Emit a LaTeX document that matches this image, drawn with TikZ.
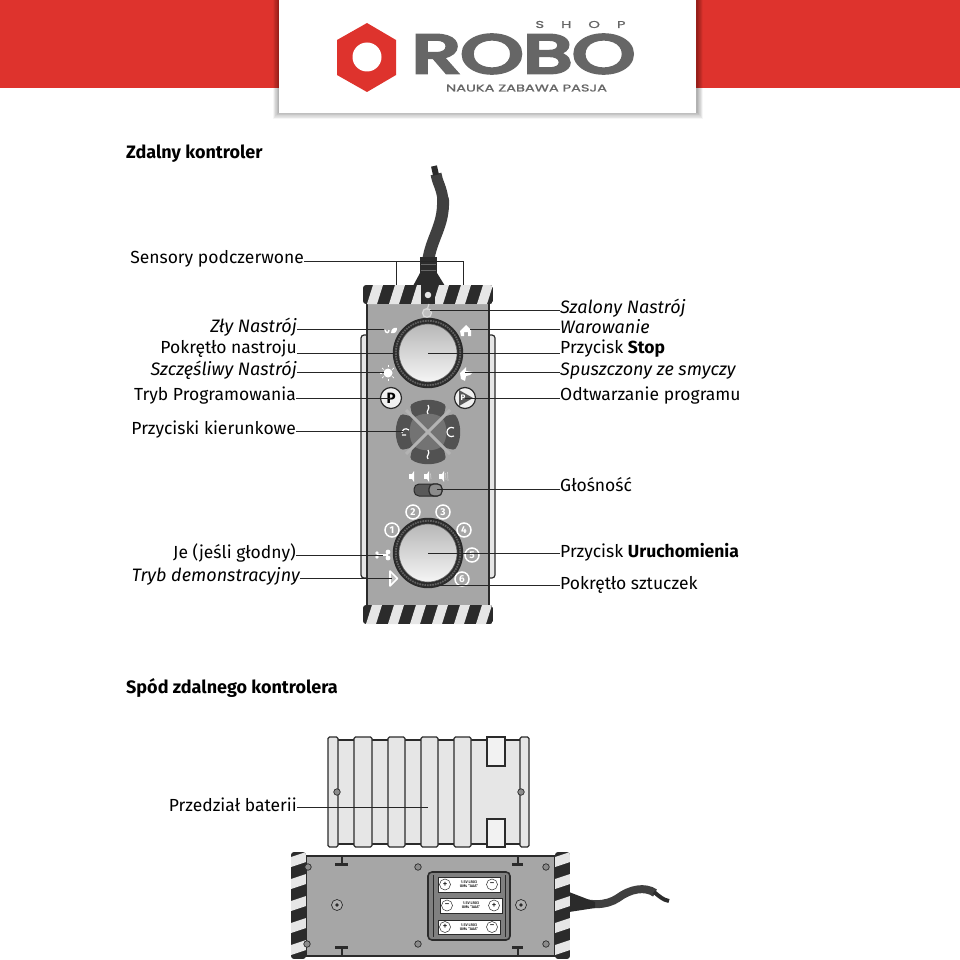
\documentclass[tikz,border=0pt]{standalone}
\usepackage{fontspec}
\setmainfont{Fira Sans}
\newfontfamily\logofont[FakeBold=6]{Poppins}
\newfontfamily\mottofont[FakeBold=1]{Poppins}
\usepackage{graphicx}
\usetikzlibrary{arrows.meta, positioning, shapes.geometric, calc}
\definecolor{robored}{HTML}{DE332D}
\definecolor{robogray}{HTML}{666666}
\definecolor{inkdark}{HTML}{2B2B2B}
\definecolor{bodygray}{HTML}{A6A6A6}
\definecolor{coverfill}{HTML}{E6E6E6}
\newcommand{\labelfont}{\fontsize{17.5}{19}\selectfont}
\newcommand{\italfont}{\fontsize{18}{19}\selectfont\itshape}

\begin{document}
\begin{tikzpicture}[
    x=1pt, y=-1pt,
    ltag/.style={anchor=base east, inner sep=0pt, font=\labelfont, text=black},
    rtag/.style={anchor=base west, inner sep=0pt, font=\labelfont, text=black},
    title/.style={anchor=base west, inner sep=0pt, font=\fontsize{18}{19}\selectfont\bfseries, text=black},
    lead/.style={draw=black!85, line width=0.8pt},
    shell/.style={draw=inkdark, line width=1.2pt},
    knobrim/.style={circle, draw=inkdark, line width=1.4pt, fill=inkdark, minimum size=69pt, inner sep=0pt},
    knobface/.style={circle, draw=black!60, line width=0.6pt, minimum size=58pt, inner sep=0pt,
        shading=axis, shading angle=-30, top color=black!28, bottom color=black!4},
    roundbtn/.style={circle, draw=inkdark, line width=1.2pt, fill=black!6, minimum size=21pt, inner sep=0pt,
        font=\fontsize{15}{15}\selectfont\bfseries},
    numdot/.style={circle, draw=white, line width=1.5pt, minimum size=14pt, inner sep=0pt, text=white,
        font=\fontsize{10}{10}\selectfont\bfseries},
    screw/.style={circle, draw=inkdark, line width=0.7pt, fill=black!45, minimum size=6.5pt, inner sep=0pt},
    stud/.style={circle, draw=inkdark, line width=0.7pt, fill=black!30, minimum size=11pt, inner sep=0pt},
    cell/.style={draw=inkdark, line width=0.7pt, fill=white},
    polemark/.style={circle, draw=inkdark, line width=0.5pt, fill=white, minimum size=11pt, inner sep=0pt,
        font=\fontsize{10}{10}\selectfont},
    celltext/.style={inner sep=0pt, align=center, text=inkdark, font=\fontsize{3.8}{4.4}\selectfont\bfseries},
    speaker/.style={fill=white, draw=none},
]
\useasboundingbox (0,0) rectangle (960,960);

% ── Header ──────
\fill[robored] (0,0) rectangle (960,88);
\foreach \s in {10,9,...,1}
    \fill[black, opacity=0.035] (279-\s*0.6,0) rectangle (697+\s*0.6,112+\s*0.7);
\fill[white] (279,0) rectangle (696,113);
\fill[robored] (367,23) -- (396,40) -- (396,75) -- (367,92) -- (337,75) -- (337,40) -- cycle;
\fill[white] (367,57) circle[radius=14.5pt];
\node[inner sep=0pt, text=robogray] (logoname) at (523.5,54)
    {\resizebox{223pt}{38pt}{\logofont ROBO}};
\node[inner sep=0pt, text=robogray] (logoshop) at (580.5,24.5)
    {\resizebox{90pt}{7pt}{\mottofont S\,\,\,\,\,\,\,H\,\,\,\,\,\,\,O\,\,\,\,\,\,\,P}};
\node[inner sep=0pt, text=robogray] (logomotto) at (526.5,88)
    {\resizebox{161pt}{7pt}{\mottofont NAUKA ZABAWA PASJA}};

\node[title] (topTitle) at (126,159) {Zdalny kontroler};
\node[title] (underTitle) at (126,693) {Spód zdalnego kontrolera};

% ── Remote, front ──────
\draw[line width=12pt, inkdark!90, line cap=round] (428,262) .. controls (431,238) and (444,226) .. (443,200);
\draw[line width=11pt, inkdark!90] (443,200.5) .. controls (442,188) and (437,182) .. (436,174);
\draw[line width=6pt, inkdark] (436,175) -- (434,166);
\fill[inkdark] (420,257) rectangle (437,273);
\fill[inkdark] (420,273) -- (437,273) -- (445,286) -- (413,286) -- cycle;
\draw[black!60, line width=0.5pt] (421,264) -- (436,264) (421,270) -- (436,270);

\draw[shell, fill=coverfill, rounded corners=3pt] (361,335) rectangle (495,578);
\draw[shell, fill=bodygray] (367,300) rectangle (489,609);

% top and bottom bars
\begin{scope}
    \clip[rounded corners=3pt] (363,285) rectangle (493,304);
    \fill[inkdark] (363,285) rectangle (493,304);
    \foreach \x in {367,389,...,477}
        \fill[coverfill] (\x,304) -- (\x+10,304) -- (\x+16,285) -- (\x+6,285) -- cycle;
\end{scope}
\begin{scope}
    \clip[rounded corners=3pt] (363,605) rectangle (493,624);
    \fill[inkdark] (363,605) rectangle (493,624);
    \foreach \x in {366,388,...,476}
        \fill[coverfill] (\x,624) -- (\x+10,624) -- (\x+16,605) -- (\x+6,605) -- cycle;
\end{scope}
\fill[inkdark] (421,285) rectangle (435,304);
\draw[inkdark, line width=1.5pt, fill=coverfill] (428,295) circle[radius=4.2pt];

% mood icons
\coordinate (spiralTip) at (430,310);
\draw[white!85!black, line width=1.2pt, fill=black!25] (427,313) circle[radius=4.5pt];
\draw[white!85!black, line width=1.2pt] (427,310) -- (429,304);
\coordinate (angryTip) at (384,329);
\draw[white, line width=1.4pt] (385,330) .. controls (386,334) and (389,333) .. (389,330);
\fill[white] (391,333) .. controls (391,329) and (394,327) .. (397,328) .. controls (397,332) and (395,334) .. (391,333) -- cycle;
\coordinate (houseTip) at (470,329);
\fill[white] (460,331) -- (466,325) -- (471,330) -- (471,336) -- (468,336) -- (468,332) -- (464,332) -- (464,336) -- (461,336) -- cycle;
\coordinate (sunTip) at (384,372);
\fill[white] (388,373) circle[radius=4.5pt];
\foreach \dx/\dy in {-8/0,-6/-5,-6/5,0/-8,0/8,6/-5,6/5}
    \draw[white, line width=0.7pt] ($(388,373)+(0.7*\dx,0.7*\dy)$) -- ($(388,373)+(\dx,\dy)$);
\coordinate (leashTip) at (465,372);
\fill[white] (460,373) -- (466,367) -- (466,371) -- (473,372) -- (470,375) -- (466,376) -- (465,381) -- (461,379) -- cycle;

\node[knobrim] (moodRim) at (428,353) {};
\draw[black!62, line width=1.8pt, dash pattern=on 1.6pt off 1pt] (moodRim) circle[radius=32.2pt];
\node[knobface] (moodKnob) at (428,353) {};

\node[roundbtn] (progBtn) at (391,398) {P};
\node[roundbtn] (playBtn) at (465,398) {};
\fill[black!65] (459,390) -- (473,398) -- (459,406) -- cycle;
\node[inner sep=0pt, text=white, font=\fontsize{8}{8}\selectfont\bfseries] (playMark) at (463,398) {P};

% direction pad
\coordinate (padC) at (428,432);
\foreach \a in {0,90,180,270}{
    \fill[black!68, rounded corners=1.5pt] (padC) -- ($(padC)+(\a+135:22)$)
        -- ($(padC)+(\a+124:32)$) .. controls ($(padC)+(\a+105:35)$) and ($(padC)+(\a+75:35)$) .. ($(padC)+(\a+56:32)$)
        -- ($(padC)+(\a+45:22)$) -- cycle;
    \fill[black!55] (padC) -- ($(padC)+(\a+135:20)$) .. controls ($(padC)+(\a+110:21)$) and ($(padC)+(\a+70:21)$) .. ($(padC)+(\a+45:20)$) -- cycle;
}
\draw[bodygray!85, line width=3pt] ($(padC)+(-22,-22)$) -- ($(padC)+(22,22)$);
\draw[bodygray!85, line width=3pt] ($(padC)+(-22,22)$) -- ($(padC)+(22,-22)$);
\draw[white, line width=1.2pt] (428,405) .. controls (431,409) and (425,411) .. (428,414);
\draw[white, line width=1.2pt] (428,450) .. controls (431,454) and (425,456) .. (428,459);
\draw[white, line width=1.2pt] (409,430) .. controls (405,427) and (402,430) .. (402,433) (402,435) -- (406,435);
\draw[white, line width=1.2pt] (454,428) .. controls (450,426) and (447,429) .. (447,432) .. controls (447,435) and (450,438) .. (454,436);
\coordinate (padTip) at (403,431);

% volume
\foreach \x in {413,428,443}{
    \fill[speaker] (\x-4,474) rectangle (\x-1,479);
    \fill[speaker] (\x-1,479) -- (\x+1,482) -- (\x+1,471) -- (\x-1,474) -- cycle;
}
\draw[white!80!black, line width=0.7pt] (430.5,473.5) -- (431,479);
\draw[white!80!black, line width=0.7pt] (445.5,473) -- (446,480) (447.5,472) -- (448,481);
\draw[inkdark, line width=1pt, fill=black!65, rounded corners=5pt] (414,484) rectangle (442,496);
\draw[inkdark, line width=1.2pt, fill=black!45, rounded corners=4.5pt] (429,484) rectangle (442,496);
\coordinate (volTip) at (437,489);

% trick dial
\node[knobrim] (trickRim) at (428,553) {};
\draw[black!62, line width=1.8pt, dash pattern=on 1.6pt off 1pt] (trickRim) circle[radius=32.2pt];
\node[knobface] (trickKnob) at (428,553) {};
\node[numdot] (nOne) at (392,530) {1};
\node[numdot] (nTwo) at (413,512) {2};
\node[numdot] (nThree) at (443,512) {3};
\node[numdot] (nFour) at (464,530) {4};
\node[numdot] (nFive) at (472,555) {5};
\node[numdot] (nSix) at (462,579) {6};
\coordinate (boneTip) at (383,555);
\draw[white, line width=2.4pt] (377,555) -- (388,555);
\fill[white] (377,553) circle[radius=1.8pt] (377,557) circle[radius=1.8pt] (388,552) circle[radius=2.4pt] (388,558) circle[radius=2.4pt];
\coordinate (demoTip) at (392,578);
\draw[white, line width=1.6pt, fill=bodygray!70, line join=round] (390,571) -- (397.5,578.5) -- (390,586) -- cycle;
\coordinate (dialTip) at (438,585);

% ── Leads, front ──────
\node[ltag] (sensorLbl) at (304,263) {Sensory podczerwone};
\node[ltag, font=\italfont] (angryLbl) at (297,332) {Zły Nastrój};
\node[ltag] (moodLbl) at (297,353) {Pokrętło nastroju};
\node[ltag, font=\italfont] (happyLbl) at (297,375) {Szczęśliwy Nastrój};
\node[ltag] (progLbl) at (296,400) {Tryb Programowania};
\node[ltag] (padLbl) at (296,434) {Przyciski kierunkowe};
\node[ltag] (feedLbl) at (296,558) {Je (jeśli głodny)};
\node[ltag, font=\italfont] (demoLbl) at (300,581) {Tryb demonstracyjny};

\node[rtag, font=\italfont] (crazyLbl) at (560,313) {Szalony Nastrój};
\node[rtag, font=\italfont] (guardLbl) at (560,333) {Warowanie};
\node[rtag] (stopLbl) at (560,353) {Przycisk \textbf{Stop}};
\node[rtag, font=\italfont] (leashLbl) at (560,375) {Spuszczony ze smyczy};
\node[rtag] (playLbl) at (560,400) {Odtwarzanie programu};
\node[rtag] (volLbl) at (560,491) {Głośność};
\node[rtag] (runLbl) at (560,557) {Przycisk \textbf{Uruchomienia}};
\node[rtag] (dialLbl) at (560,589) {Pokrętło sztuczek};

\coordinate (sensorL) at (396,285);
\coordinate (sensorR) at (463,285);
\draw[lead] (sensorLbl.east |- 0,261) -| (sensorL);
\draw[lead] (sensorL |- 0,261) -| (sensorR);

\draw[lead] (angryLbl.east |- angryTip) -- (angryTip);
\draw[lead] (moodLbl.east |- moodRim.west) -- (moodRim.west);
\draw[lead] (happyLbl.east |- sunTip) -- (sunTip);
\draw[lead] (progLbl.east |- progBtn) -- (progBtn.center);
\draw[lead] (padLbl.east |- padTip) -- (padTip);
\draw[lead] (feedLbl.east |- boneTip) -- (boneTip);
\draw[lead] (demoLbl.east |- demoTip) -- (demoTip);

\draw[lead] (spiralTip) -- (spiralTip -| crazyLbl.west);
\draw[lead] (houseTip) -- (houseTip -| guardLbl.west);
\draw[lead] (moodKnob.center) -- (moodKnob -| stopLbl.west);
\draw[lead] (leashTip) -- (leashTip -| leashLbl.west);
\draw[lead] (playBtn.center) -- (playBtn -| playLbl.west);
\draw[lead] (volTip) -- (volTip -| volLbl.west);
\draw[lead] (trickKnob.center) -- (trickKnob -| runLbl.west);
\draw[lead] (dialTip) -- (dialTip -| dialLbl.west);

% ── Battery cover ──────
\draw[shell, fill=coverfill] (330,740) rectangle (527,844);
\foreach \xa/\xb in {328/338,354/372,388/405,421/438,454/471,520/529}
    \draw[shell, fill=coverfill, rounded corners=1.5pt] (\xa,737) rectangle (\xb,847);
\draw[shell, fill=white!50!coverfill] (487,737) rectangle (505,766);
\draw[shell, fill=white!50!coverfill] (487,819) rectangle (505,847);
\node[screw] (coverL) at (337,792) {};
\node[screw] (coverR) at (521,792) {};
\coordinate (coverTip) at (428,807);
\node[ltag] (coverLbl) at (297,811) {Przedział baterii};
\draw[lead] (coverLbl.east |- coverTip) -- (coverTip);

% ── Remote, underside ──────
\draw[line width=8pt, inkdark!90] (570,899) .. controls (590,906) and (606,906) .. (618,898) .. controls (630,889) and (645,886) .. (655,893);
\draw[line width=4pt, inkdark] (654,892) .. controls (659,896) and (663,900) .. (669,901);
\fill[inkdark] (569,892) -- (595,902) -- (595,908) -- (569,912) -- cycle;
\draw[shell, fill=bodygray] (306,856) rectangle (555,956);
\begin{scope}
    \clip[rounded corners=3pt] (291,852) rectangle (306,959);
    \fill[inkdark] (291,852) rectangle (306,959);
    \foreach \y in {857,879,...,945}
        \fill[coverfill] (291,\y) -- (291,\y+10) -- (306,\y+5) -- (306,\y-5) -- cycle;
\end{scope}
\begin{scope}
    \clip[rounded corners=3pt] (555,852) rectangle (570,959);
    \fill[inkdark] (555,852) rectangle (570,959);
    \foreach \y in {857,879,...,945}
        \fill[coverfill] (555,\y) -- (555,\y+10) -- (570,\y+5) -- (570,\y-5) -- cycle;
\end{scope}
\foreach \xa/\xb in {335/348,512/523}{
    \fill[inkdark] (\xa,863) rectangle (\xb,865.5);
    \fill[inkdark] ({(\xa+\xb)/2-1},856) rectangle ({(\xa+\xb)/2+1},864);
    \fill[inkdark] (\xa,946) rectangle (\xb,948.5);
    \fill[inkdark] ({(\xa+\xb)/2-1},947) rectangle ({(\xa+\xb)/2+1},956);
}
\node[screw] (sA) at (308,867) {};
\node[screw] (sB) at (418,867) {};
\node[screw] (sC) at (546,867) {};
\node[screw] (sD) at (307,944) {};
\node[screw] (sE) at (418,944) {};
\node[screw] (sF) at (546,944) {};
\node[stud] (studL) at (337,905) {};
\node[stud] (studR) at (521,905) {};
\fill[inkdark] (studL) circle[radius=1.8pt] (studR) circle[radius=1.8pt];

\draw[inkdark, line width=1.6pt, fill=black!50, rounded corners=4pt] (428,872) rectangle (510,940);
\draw[inkdark, line width=0.6pt] (433,875) -- (433,937) (505,875) -- (505,937);
\draw[cell] (438,877) rectangle (500,892);
\draw[cell] (440,898) rectangle (502,913);
\draw[cell] (438,920) rectangle (500,934);
\node[polemark] (aPlus) at (445,884.5) {+};
\node[polemark] (aMinus) at (492,884.5) {−};
\node[polemark] (bMinus) at (447,905.5) {−};
\node[polemark] (bPlus) at (494,905.5) {+};
\node[polemark] (cPlus) at (445,927) {+};
\node[polemark] (cMinus) at (492,927) {−};
\node[celltext] (aText) at (469,884.5) {1.5V LR03\\UM4 "AAA"};
\node[celltext] (bText) at (471,905.5) {1.5V LR03\\UM4 "AAA"};
\node[celltext] (cText) at (469,927) {1.5V LR03\\UM4 "AAA"};

\end{tikzpicture}
\end{document}
